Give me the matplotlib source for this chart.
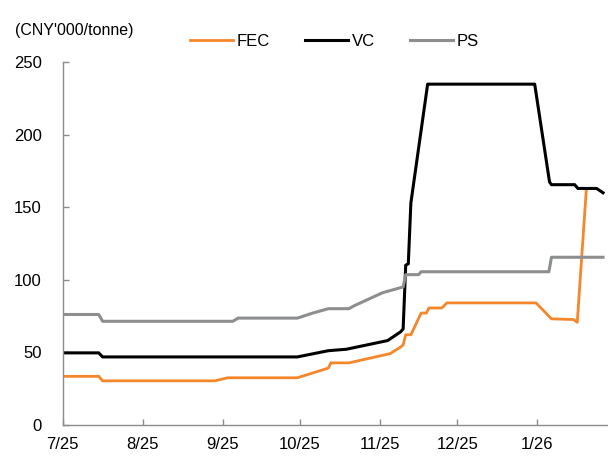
import pandas as pd
import matplotlib
matplotlib.use('Agg')
from matplotlib import pyplot as plt

plt.rcParams['font.family'] = ['Liberation Sans', 'DejaVu Sans']

# Price series (CNY'000/tonne), breakpoints
fec_dates = ['2025-07-01', '2025-07-15', '2025-07-16 12:00', '2025-08-29', '2025-09-03',
             '2025-09-30', '2025-10-12', '2025-10-13', '2025-10-20', '2025-11-05',
             '2025-11-09', '2025-11-10', '2025-11-11', '2025-11-13', '2025-11-17',
             '2025-11-19', '2025-11-20', '2025-11-25', '2025-11-27', '2025-12-31 12:00',
             '2026-01-06 12:00', '2026-01-15', '2026-01-16 12:00', '2026-01-20']
fec_vals = [33.3, 33.3, 30.2, 30.2, 32.3,
            32.3, 39.0, 42.6, 42.6, 49.0,
            53.5, 55.0, 62.0, 62.0, 77.0,
            77.0, 80.5, 80.5, 84.0, 84.0,
            73.0, 72.5, 70.6, 162.0]

vc_dates = ['2025-07-01', '2025-07-15', '2025-07-16 12:00', '2025-09-30', '2025-10-12',
            '2025-10-19', '2025-11-04', '2025-11-09', '2025-11-10', '2025-11-11',
            '2025-11-12', '2025-11-13', '2025-11-19 12:00', '2025-12-31', '2026-01-05 18:00',
            '2026-01-06 12:00', '2026-01-15 12:00', '2026-01-16 18:00', '2026-01-24', '2026-01-26 12:00']
vc_vals = [49.5, 49.5, 46.7, 46.7, 51.0,
           52.0, 58.0, 64.0, 66.0, 110.0,
           111.0, 153.0, 235.0, 235.0, 167.5,
           165.6, 165.6, 163.0, 163.0, 160.0]

ps_dates = ['2025-07-01', '2025-07-15', '2025-07-16 12:00', '2025-09-05', '2025-09-07',
            '2025-09-30', '2025-10-06', '2025-10-12', '2025-10-20', '2025-10-22',
            '2025-11-02', '2025-11-05', '2025-11-10', '2025-11-11', '2025-11-16',
            '2025-11-17', '2026-01-05 12:00', '2026-01-06 12:00', '2026-01-26 12:00']
ps_vals = [76.0, 76.0, 71.3, 71.3, 73.5,
           73.5, 77.0, 80.0, 80.0, 82.0,
           91.0, 92.5, 95.0, 103.5, 103.5,
           105.5, 105.5, 115.5, 115.5]

tick_dates = ['2025-07-01', '2025-08-01', '2025-09-01', '2025-10-01',
              '2025-11-01', '2025-12-01', '2026-01-01']
tick_labels = ['7/25', '8/25', '9/25', '10/25', '11/25', '12/25', '1/26']

fig = plt.figure(figsize=(6.08, 4.59), dpi=100)
ax = fig.add_axes([0.103, 0.075, 0.897, 0.789])

ax.plot(pd.to_datetime(fec_dates, format='mixed'), fec_vals, color='#F5862A', lw=2.0, label='FEC')
ax.plot(pd.to_datetime(vc_dates, format='mixed'), vc_vals, color='black', lw=2.2, label='VC')
ax.plot(pd.to_datetime(ps_dates, format='mixed'), ps_vals, color='#8C8E90', lw=2.2, label='PS')

ax.set_ylim(0, 250)
ax.set_yticks([0, 50, 100, 150, 200, 250])
ax.set_xlim(pd.Timestamp('2025-07-01'), pd.Timestamp('2026-01-28 10:00'))
ax.set_xticks(pd.to_datetime(tick_dates))
ax.set_xticklabels(tick_labels)

for s in ['top', 'right']:
    ax.spines[s].set_visible(False)
for s in ['left', 'bottom']:
    ax.spines[s].set_color('#8C8C8C')
    ax.spines[s].set_linewidth(1.0)

ax.tick_params(axis='both', direction='in', length=4, width=1, color='#8C8C8C',
               labelsize=12, labelcolor='black')
ax.tick_params(axis='y', pad=15)
ax.tick_params(axis='x', pad=9)

fig.text(15 / 608, 1 - 31 / 459, "(CNY'000/tonne)", fontsize=11.5, va='center', ha='left')

fig.legend(loc='center left', bbox_to_anchor=(190 / 608, 1 - 41 / 459), ncol=3,
           frameon=False, fontsize=12, handlelength=2.6, handletextpad=0.2,
           columnspacing=2.1, borderpad=0, borderaxespad=0)

plt.savefig('out.png', dpi=100)
